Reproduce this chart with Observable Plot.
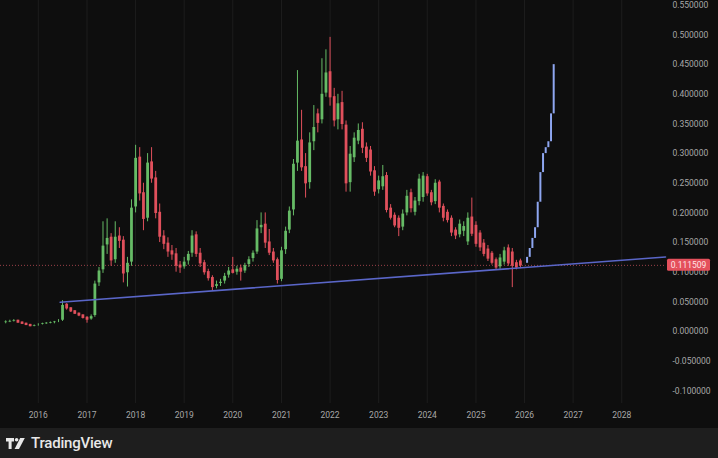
<!DOCTYPE html>
<html><head><meta charset="utf-8">
<script src="https://cdn.jsdelivr.net/npm/d3@7"></script>
<script src="https://cdn.jsdelivr.net/npm/@observablehq/plot@0.6"></script>
<style>
html,body{margin:0;padding:0;background:#1e1e1e;width:718px;height:458px;overflow:hidden;font-family:Roboto,"Liberation Sans",sans-serif;}
#chart svg{display:block;}
#footer{height:30px;display:flex;align-items:center;padding-left:6px;color:#e8e8e8;font-size:15px;font-weight:500;letter-spacing:-0.2px;}
#footer svg{margin-right:5px;}
</style></head><body>
<div id="chart"></div>
<div id="footer"><svg width="20" height="13" viewBox="0 0 20 13"><path d="M0 1h8v3.5H5.6V12H2.6V4.5H0z" fill="#e8e8e8"/><circle cx="10.6" cy="2.8" r="1.8" fill="#e8e8e8"/><path d="M14.2 1h4.6L13 12H8.6z" fill="#e8e8e8"/></svg><span>TradingView</span></div>
<script>
// Monthly candles (month, open, high, low, close)
const months = ["2015-05","2015-06","2015-07","2015-08","2015-09","2015-10","2015-11","2015-12",
"2016-01","2016-02","2016-03","2016-04","2016-05","2016-06","2016-07","2016-08","2016-09","2016-10","2016-11","2016-12",
"2017-01","2017-02","2017-03","2017-04","2017-05","2017-06","2017-07","2017-08","2017-09","2017-10","2017-11","2017-12",
"2018-01","2018-02","2018-03","2018-04","2018-05","2018-06","2018-07","2018-08","2018-09","2018-10","2018-11","2018-12",
"2019-01","2019-02","2019-03","2019-04","2019-05","2019-06","2019-07","2019-08","2019-09","2019-10","2019-11","2019-12",
"2020-01","2020-02","2020-03","2020-04","2020-05","2020-06","2020-07","2020-08","2020-09","2020-10","2020-11","2020-12",
"2021-01","2021-02","2021-03","2021-04","2021-05","2021-06","2021-07","2021-08","2021-09","2021-10","2021-11","2021-12",
"2022-01","2022-02","2022-03","2022-04","2022-05","2022-06","2022-07","2022-08","2022-09","2022-10","2022-11","2022-12",
"2023-01","2023-02","2023-03","2023-04","2023-05","2023-06","2023-07","2023-08","2023-09","2023-10","2023-11","2023-12",
"2024-01","2024-02","2024-03","2024-04","2024-05","2024-06","2024-07","2024-08","2024-09","2024-10","2024-11","2024-12",
"2025-01","2025-02","2025-03","2025-04","2025-05","2025-06","2025-07","2025-08","2025-09","2025-10","2025-11","2025-12"];
const opens = [.015,.016,.017,.018,.015,.013,.011,.009,
.010,.012,.013,.014,.015,.016,.018,.045,.039,.034,.030,.027,
.023,.020,.026,.081,.103,.145,.158,.120,.160,.153,.098,.116,
.209,.293,.233,.190,.285,.258,.200,.160,.148,.135,.130,.111,
.108,.118,.131,.162,.131,.115,.100,.090,.075,.080,.084,.094,
.103,.099,.106,.101,.112,.122,.133,.174,.180,.150,.133,.120,
.087,.137,.170,.204,.283,.322,.277,.250,.319,.366,.356,.401,
.437,.395,.356,.385,.347,.250,.292,.320,.340,.310,.305,.270,
.238,.243,.262,.207,.195,.190,.175,.199,.233,.200,.218,.225,
.260,.233,.218,.251,.210,.200,.190,.170,.162,.168,.150,.192,
.178,.165,.148,.138,.131,.120,.108,.116,.140,.133,.115,.118];
const highs = [.018,.019,.020,.019,.016,.014,.012,.011,
.013,.014,.015,.016,.017,.020,.052,.047,.040,.035,.031,.028,
.025,.028,.085,.108,.185,.190,.165,.185,.175,.160,.125,.222,
.314,.310,.250,.300,.310,.270,.215,.170,.158,.145,.140,.118,
.125,.135,.170,.168,.140,.120,.105,.094,.085,.088,.098,.108,
.125,.110,.112,.115,.126,.136,.187,.200,.200,.172,.140,.124,
.142,.176,.210,.290,.440,.373,.300,.335,.381,.375,.460,.475,
.496,.410,.400,.405,.355,.312,.335,.350,.352,.318,.312,.278,
.262,.280,.268,.214,.200,.195,.205,.238,.240,.226,.265,.268,
.265,.238,.256,.255,.215,.205,.195,.175,.188,.185,.200,.225,
.185,.170,.155,.145,.135,.124,.130,.142,.146,.140,.120,.122];
const lows = [.013,.015,.016,.014,.012,.010,.008,.008,
.009,.011,.012,.013,.013,.015,.017,.036,.032,.029,.025,.021,
.014,.019,.024,.076,.098,.130,.110,.115,.140,.082,.075,.110,
.200,.220,.170,.185,.250,.190,.150,.138,.125,.120,.100,.098,
.105,.112,.125,.125,.108,.095,.085,.068,.072,.076,.080,.090,
.097,.095,.085,.098,.108,.117,.130,.165,.140,.128,.115,.080,
.084,.130,.165,.195,.270,.270,.225,.240,.305,.335,.350,.395,
.380,.345,.340,.340,.235,.235,.285,.315,.300,.285,.262,.228,
.232,.238,.200,.188,.175,.160,.170,.195,.200,.195,.212,.218,
.228,.212,.214,.200,.185,.183,.160,.155,.158,.160,.145,.160,
.142,.135,.126,.118,.112,.104,.105,.112,.110,.074,.104,.106];
const closes = [.016,.017,.018,.015,.013,.011,.009,.010,
.012,.013,.014,.015,.016,.018,.045,.039,.034,.030,.027,.023,
.020,.026,.081,.103,.145,.158,.120,.160,.153,.098,.116,.209,
.293,.233,.190,.285,.258,.200,.160,.148,.135,.130,.111,.108,
.118,.131,.162,.131,.115,.100,.090,.075,.080,.084,.094,.103,
.099,.106,.101,.112,.122,.133,.174,.180,.150,.133,.120,.087,
.137,.170,.204,.283,.322,.277,.250,.319,.345,.352,.401,.437,
.395,.356,.385,.350,.250,.300,.327,.340,.310,.293,.270,.236,
.255,.262,.205,.192,.179,.175,.199,.229,.208,.221,.258,.263,
.233,.218,.251,.209,.192,.188,.167,.162,.182,.178,.192,.165,
.148,.142,.131,.123,.116,.108,.125,.137,.115,.111,.108,.1115];

// Projected path (blue bars)
const projDates = ["2026-01-20","2026-02-09","2026-03-01","2026-03-21","2026-04-10","2026-04-30","2026-05-20","2026-06-09","2026-06-29","2026-07-19","2026-08-08"];
const projOpen  = [.115,.125,.140,.157,.175,.218,.268,.300,.310,.320,.367];
const projClose = [.125,.140,.157,.175,.218,.268,.300,.310,.320,.367,.450];

// Support trend line
const trendDates = ["2016-06-13","2028-11-25"];
const trendValues = [0.0494, 0.1255];

const lastPrice = 0.111509;
const yearTicks = ["2016","2017","2018","2019","2020","2021","2022","2023","2024","2025","2026","2027","2028"];
const priceTicks = [-0.10,-0.05,0,0.05,0.10,0.15,0.20,0.25,0.30,0.35,0.40,0.45,0.50,0.55];

const candles = months.map((m,i)=>({date:new Date(m+"-01"),open:opens[i],high:highs[i],low:lows[i],close:closes[i]}));
const up = candles.filter(d=>d.close>=d.open), down = candles.filter(d=>d.close<d.open);
const proj = projDates.map((d,i)=>({date:new Date(d),open:projOpen[i],close:projClose[i]}));
const trend = trendDates.map((d,i)=>({date:new Date(d),value:trendValues[i]}));
const years = yearTicks.map(y=>new Date(y+"-01-01"));

const GREEN="#66bb66", RED="#e0505c";
const fmt = v => (v<0?"-":"") + Math.abs(v).toFixed(6);

const plot = Plot.plot({
  width:718, height:428,
  marginLeft:0, marginRight:53, marginTop:0, marginBottom:25,
  style:{background:"#0e0e0e",color:"#a8a8a8",fontFamily:"Roboto, 'Liberation Sans', sans-serif",fontSize:"8.5px"},
  x:{type:"utc",domain:[new Date("2015-03-23"),new Date("2028-11-25")]},
  y:{domain:[-0.12142,0.55818]},
  marks:[
    Plot.ruleX(years,{stroke:"#1d1d1d"}),
    Plot.ruleY([lastPrice],{stroke:"#9a4048",strokeDasharray:"1,2",strokeWidth:1}),
    Plot.ruleX(up,{x:"date",y1:"low",y2:"high",stroke:GREEN,strokeWidth:1}),
    Plot.ruleX(down,{x:"date",y1:"low",y2:"high",stroke:RED,strokeWidth:1}),
    Plot.ruleX(up,{x:"date",y1:"open",y2:"close",stroke:GREEN,strokeWidth:2.8,insetTop:-0.6,insetBottom:-0.6}),
    Plot.ruleX(down,{x:"date",y1:"open",y2:"close",stroke:RED,strokeWidth:2.8,insetTop:-0.6,insetBottom:-0.6}),
    Plot.line(trend,{x:"date",y:"value",stroke:"#5a66c8",strokeWidth:1.6}),
    Plot.ruleX(proj,{x:"date",y1:"open",y2:"close",stroke:"#8ea6f0",strokeWidth:2}),
    Plot.axisX({ticks:years,tickFormat:"%Y",tickSize:0,tickPadding:8,fill:"#a8a8a8"}),
    Plot.axisY({anchor:"right",ticks:priceTicks,tickFormat:fmt,tickSize:0,tickPadding:7,textAnchor:"start",fill:"#a8a8a8"})
  ]
});
document.getElementById("chart").appendChild(plot);

// current price badge on the price axis
const svg = d3.select(plot);
const yb = plot.scale("y").apply(lastPrice);
svg.append("rect").attr("x",667).attr("y",yb-6).attr("width",43).attr("height",12).attr("rx",1.5).attr("fill","#e4505c");
svg.append("text").attr("x",688.5).attr("y",yb).attr("dy","0.35em").attr("text-anchor","middle")
  .attr("fill","#ffe4e6").attr("font-size","8.5px").text(lastPrice.toFixed(6));
</script>
</body></html>
